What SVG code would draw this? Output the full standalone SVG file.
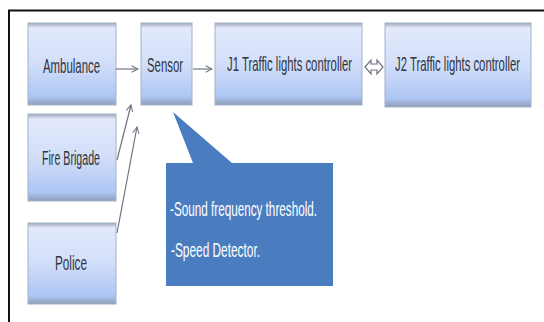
<svg xmlns="http://www.w3.org/2000/svg" width="544" height="322" viewBox="0 0 544 322">
<defs>
<linearGradient id="boxg" x1="0" y1="0" x2="0" y2="1">
<stop offset="0" stop-color="#9ea8b8"/>
<stop offset="0.06" stop-color="#e2e9fb"/>
<stop offset="0.5" stop-color="#d2def9"/>
<stop offset="0.9" stop-color="#adc6f4"/>
<stop offset="1" stop-color="#8e9cb6"/>
</linearGradient>
<marker id="chev" viewBox="0 0 10 10" refX="9" refY="5" markerWidth="8" markerHeight="8" orient="auto" markerUnits="userSpaceOnUse">
<path d="M1,1 L9,5 L1,9" fill="none" stroke="#6d7480" stroke-width="1.3"/>
</marker>
<style>
.box{fill:url(#boxg);stroke:#a3b2c9;stroke-width:1}
.lbl{font-family:"Liberation Sans",Arial,sans-serif;font-size:21px;fill:#2f3440}
.co{font-family:"Liberation Sans",Arial,sans-serif;font-size:20px;fill:#ffffff}
.conn{fill:none;stroke:#6d7480;stroke-width:1.2}
</style>
</defs>
<rect width="544" height="322" fill="#ffffff"/>
<path d="M9,322 V10.5 H544" fill="none" stroke="#111" stroke-width="2"/>

<g id="ambulance">
<rect class="box" x="28" y="23" width="88" height="82"/>
<text class="lbl" transform="translate(43,73) scale(0.543,1)" textLength="105" lengthAdjust="spacingAndGlyphs">Ambulance</text>
</g>
<g id="sensor">
<rect class="box" x="141" y="23" width="51" height="82"/>
<text class="lbl" transform="translate(147,72) scale(0.54,1)" textLength="66.7" lengthAdjust="spacingAndGlyphs">Sensor</text>
</g>
<g id="j1">
<rect class="box" x="215" y="23" width="147" height="82"/>
<text class="lbl" transform="translate(227,71) scale(0.536,1)" textLength="233.2" lengthAdjust="spacingAndGlyphs">J1 Traffic lights controller</text>
</g>
<g id="j2">
<rect class="box" x="385" y="23" width="146" height="84"/>
<text class="lbl" transform="translate(395,71) scale(0.536,1)" textLength="233.2" lengthAdjust="spacingAndGlyphs">J2 Traffic lights controller</text>
</g>
<g id="fire">
<rect class="box" x="28" y="114" width="88" height="87"/>
<text class="lbl" transform="translate(42,165) scale(0.51,1)" textLength="113.7" lengthAdjust="spacingAndGlyphs">Fire Brigade</text>
</g>
<g id="police">
<rect class="box" x="28" y="223" width="88" height="81"/>
<text class="lbl" transform="translate(55,270) scale(0.56,1)" textLength="57.1" lengthAdjust="spacingAndGlyphs">Police</text>
</g>
<g id="callout">
<path d="M166,163 H193 L173,112 L232,163 H333 V286 H166 Z" fill="#4a7dbf"/>
<text class="co" transform="translate(170,216) scale(0.585,1)" textLength="251.3" lengthAdjust="spacingAndGlyphs">-Sound frequency threshold.</text>
<text class="co" transform="translate(171,257) scale(0.59,1)" textLength="150.8" lengthAdjust="spacingAndGlyphs">-Speed Detector.</text>
</g>

<g id="connectors">
<line class="conn" x1="116" y1="69" x2="138" y2="69" marker-end="url(#chev)"/>
<line class="conn" x1="193" y1="69" x2="212" y2="69" marker-end="url(#chev)"/>
<line class="conn" x1="117" y1="160" x2="131" y2="105" marker-end="url(#chev)"/>
<line class="conn" x1="117" y1="233" x2="137" y2="127" marker-end="url(#chev)"/>
<polygon points="365,67 371,60 371,64 377,64 377,60 383,67 377,74 377,70 371,70 371,74" fill="#ffffff" stroke="#6d7480" stroke-width="1.2"/>
</g>
</svg>
